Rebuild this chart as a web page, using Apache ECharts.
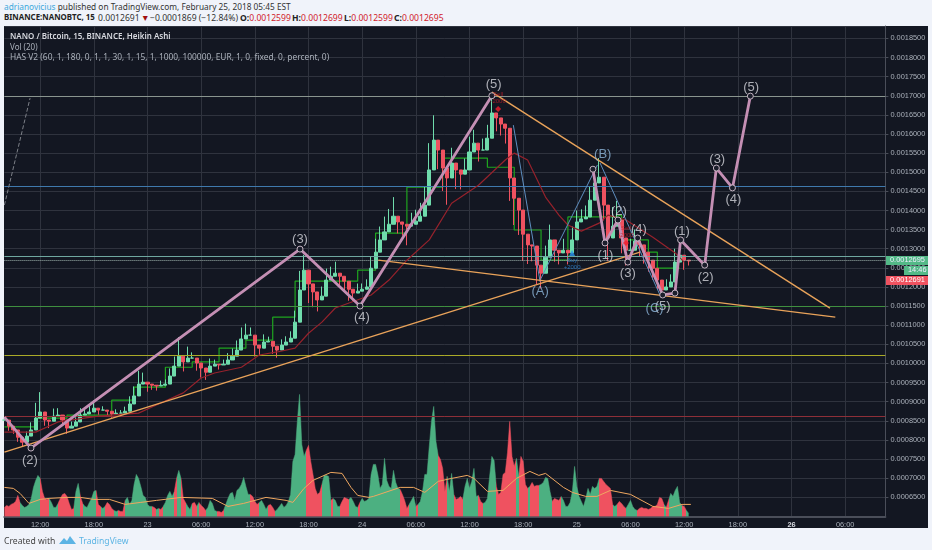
<!DOCTYPE html>
<html><head><meta charset="utf-8">
<script src="https://cdn.jsdelivr.net/npm/echarts@6/dist/echarts.min.js"></script>
<style>
html,body{margin:0;padding:0;width:932px;height:550px;background:#f0f3fa;overflow:hidden;font-family:"Noto Sans",sans-serif}
#panel{position:absolute;left:4px;top:26px;width:924px;height:502px;background:#131722}
#chart{position:absolute;left:0;top:0;width:932px;height:550px;filter:blur(.35px)}
.h{position:absolute;white-space:nowrap;color:#333;font-size:8.3px}
.b{font-weight:700;color:#222}.r{color:#d0202a}.blue{color:#3fa9dc}
#foot{position:absolute;left:4px;top:535px;font-size:8.6px;color:#444;white-space:nowrap}
#tv{position:absolute;left:79px;top:535px;font-size:8.6px;color:#5cb4e4}
svg{position:absolute;left:59px;top:536px}
</style></head><body>
<div class="h" style="top:1px;left:4px"><span class="blue">adrianovicius</span> published on TradingView.com, February 25, 2018 05:45 EST</div>
<div class="h b" style="top:12px;left:4px;font-size:7.9px">BINANCE:NANOBTC, 15</div>
<div class="h" style="top:12px;left:98px;font-size:8.6px">0.0012691</div>
<div class="h" style="top:12px;left:141px;font-size:8.6px;color:#a01010">▼</div>
<div class="h" style="top:12px;left:150px;font-size:8.6px">−0.0001869 (−12.84%)</div>
<div class="h" style="top:12px;left:240px;font-size:8.6px"><span class="b">O:</span><span class="r">0.0012599</span></div>
<div class="h" style="top:12px;left:292px;font-size:8.6px"><span class="b">H:</span><span class="r">0.0012699</span></div>
<div class="h" style="top:12px;left:344px;font-size:8.6px"><span class="b">L:</span><span class="r">0.0012599</span></div>
<div class="h" style="top:12px;left:394px;font-size:8.6px"><span class="b">C:</span><span class="r">0.0012695</span></div>
<div id="panel"></div>
<div id="chart"></div>
<div id="foot">Created with</div>
<svg width="17" height="9" viewBox="0 0 17 9"><path d="M0 8 L5 2 L8 5 L11 0 L17 8 Z" fill="#5cb4e4"/></svg>
<div id="tv">TradingView</div>
<script>
// Prices are in units of 0.0000001 BTC. Candles are 30-minute steps starting 22 Feb 08:00.
const closes=[8520,8360,8260,8070,7940,8100,8260,8570,8730,8520,8490,8620,8650,8520,8310,8360,8470,8650,8680,8730,8830,8780,8780,8750,8680,8700,8700,8750,8940,9150,
9460,9510,9460,9430,9410,9430,9460,9670,9930,10190,10040,10140,10140,10010,9880,9770,9930,9980,9960,9980,10090,10190,10350,10640,10740,10740,10480,10400,10560,10580,
10450,10350,10480,10560,10660,11080,11920,12440,12080,11870,11660,11760,12180,12280,12360,12280,12150,11940,11840,11890,11940,12000,12490,12910,13230,13440,13640,13850,13700,13640,
13590,13640,13720,13850,14140,15060,15840,15580,15110,14850,15240,15060,14950,15060,15530,15760,15580,15580,15890,16550,16420,16260,16150,14850,14320,14010,13380,13100,13070,12570,
12360,12780,13230,12960,12890,12960,12890,13230,13700,13780,13830,14270,14720,14870,14140,13280,13590,13750,13280,12960,12960,13200,13100,12910,12700,12490,12180,11920,12000,12130,
12650,12830,12700,12680];
// Wick length beyond the body: upward on rising bars, downward on falling bars.
const wicks=[80,120,100,120,100,120,200,400,520,150,180,200,180,120,150,120,120,180,150,200,200,120,100,100,100,100,80,120,200,250,
350,250,200,120,120,120,120,200,250,500,250,300,150,200,250,200,200,120,120,120,180,200,250,300,300,200,300,200,200,120,
200,200,150,150,180,300,500,400,500,400,300,250,300,250,300,300,300,300,200,200,150,200,300,350,350,400,400,500,300,300,
500,300,300,350,500,700,650,500,600,700,400,500,400,300,400,350,300,300,350,500,350,300,400,600,700,650,700,500,400,500,
400,300,400,300,300,300,300,350,300,250,300,350,400,500,400,600,500,500,400,400,300,300,300,300,300,300,250,200,200,200,
350,300,250,120];
// Volume per 15-minute step; a minus sign marks a falling bar.
const volumes=[-9,-11,-10,-12,-13,-15,-21,14,11,9,10,12,18,29,36,41,-38,-25,-18,-17,18,14,9,9,-13,-18,-22,-23,-20,-13,-7,8,25,33,-20,13,10,9,14,18,25,-26,-12,10,8,-10,-14,-12,-8,6,5,-6,-5,-5,16,19,12,16,32,42,38,30,21,19,12,10,-10,-9,7,-8,-7,10,14,21,25,20,-25,38,46,-38,-18,14,10,7,-13,-14,10,-14,-11,-9,6,9,16,13,6,-5,-5,-4,6,12,18,23,24,16,26,28,32,39,30,22,-22,-20,-15,-12,14,16,12,7,-11,-12,-9,5,7,10,13,9,11,15,22,55,62,95,122,72,60,-66,-71,-55,-42,-28,-22,-24,32,41,41,40,-16,18,16,10,-10,-15,-19,-18,17,19,15,10,-9,14,18,15,16,18,42,52,52,42,28,32,58,36,30,28,46,34,28,
-27,-22,-16,-8,12,16,20,-10,12,15,25,42,42,70,95,110,75,-61,-57,-48,-25,40,25,43,-22,-17,-18,-20,17,30,38,28,35,48,20,-21,-15,13,14,18,40,60,56,-30,-22,-24,-42,-44,-64,-95,-60,-50,58,-40,-60,-55,-32,28,-30,-34,-30,-31,31,32,34,39,38,25,-15,-18,-17,-16,20,16,10,10,14,25,50,30,20,15,10,18,28,22,30,28,30,-38,-38,-35,-32,-30,-28,12,10,-12,-15,-13,-10,8,12,16,10,7,-6,-8,-9,-8,-8,-7,-8,-10,-10,-12,-19,-18,12,-9,16,23,20,26,30,14,-11,-10,6,3];
// Vol (20) average, as [15-minute step, volume].
const volAverage=[[0,29],[4,28],[7,23],[11,13],[16,17],[20,18],[28,19],[34,19],[40,17],[47,17],[54,12],[61,14],[68,16],[79,19],[93,18],[100,10],[107,13],[117,19],[126,16],[129,14],[134,28],[138,36],[146,44],[151,43],[155,29],[158,21],[163,19],[165,20],[177,29],[183,29],[188,24],[194,35],[200,38],[207,41],[210,38],[216,25],[223,26],[229,38],[235,45],[239,41],[242,43],[250,29],[254,24],[260,20],[265,20],[271,26],[280,22],[290,10],[297,8],[303,12],[307,12]];
// Green stepped HAS line and dark-red average, as [30-minute step, price].
const stepLine=[[0,8340],[7,8570],[14,8650],[24,9040],[29,9380],[36,9900],[42,10040],[48,10400],[54,10610],[60,11210],[65,12150],[79,12440],[83,13410],[90,14610],[98,15370],[108,15130],[114,13490],[120,12700],[126,13830],[136,13880],[138,13230],[144,12910],[146,12490],[151,12490]];
const redAverage=[[0,8205],[7,8205],[12,8470],[21,8620],[30,8700],[33,8860],[40,9230],[44,9620],[47,9750],[53,9900],[57,10220],[61,10300],[65,10400],[68,10790],[71,11080],[74,11450],[82,11790],[86,12180],[90,12700],[95,13230],[100,14190],[106,14660],[112,15320],[114,15500],[117,15320],[121,14350],[124,13880],[126,13620],[129,13460],[133,13670],[135,13880],[139,13750],[145,13300],[150,12890],[152,12650]];
// Drawings, as [hours since 22 Feb 00:00, price].
const waveOne=[[8,8597],[10.97,7787],[41.05,12990],[47.76,11500],[62.5,17000]];
const waveTwo=[[73.8,15080],[75.15,13150],[76.6,13750],[77.7,12650],[78.8,13280],[81.6,11790],[82.97,11840],[83.6,13230],[86.3,12570],[87.6,15110],[89.4,14590],[91.4,16990]];
const trendLines=[[[8,7682],[79.06,12912]],[[49.8,12703],[100.9,11212]],[[62.5,17096],[100.3,11448]]];
const blueLines=[[[64.9,16233],[67.9,12128]],[[67.9,12180],[74.3,15190]],[[74.6,15240],[81.3,11790]]];
const dashedLine=[[8,14141],[10.87,16939]];
const waveLabels=[[10.86,7473,'(2)'],[41.05,13252,'(3)'],[47.98,11212,'(4)'],[62.7,17305,'(5)'],[75.2,12834,'(1)'],[76.7,13984,'(2)'],[77.7,12363,'(3)'],[78.95,13514,'(4)'],[81.6,11500,'(5)'],[83.75,13461,'(1)'],[86.4,12258,'(2)'],[87.7,15344,'(3)'],[89.5,14298,'(4)'],[91.5,17227,'(5)']];
const blueLabels=[[67.9,11892,'(A)'],[74.9,15475,'(B)'],[80.7,11448,'(C)']];
const sellSignals=[[63.2,16652],[77.5,13147]];
const buySignals=[[71.47,12886]];
// Horizontal price levels.
const levels=[[17000,'#8a958f'],[14646,'#3f79ad'],[12807,'#6fa8a0'],[11500,'#3f8f3f'],[10227,'#aaaa28'],[8606,'#8e2f38']];
const lastPrice=12695;
const dayLabels={24:'23',48:'24',72:'25',96:'26'};

const UP='#6fdcac',DOWN='#ef5260',GRIDC='#2f333e',TXT='#aab0ba',UPV='#4cb081';
const hourOf=j=>8+j/2;
const candleCats=[];for(let j=0;j<198;j++){const h=hourOf(j);candleCats.push(dayLabels[h]?dayLabels[h]:(h%24===0?'':String(h%24).padStart(2,'0')+':00'));}
const volCats=[];for(let i=0;i<395;i++)volCats.push(i);
const onSix=(i)=>hourOf(i)%6===0;
const candles=closes.map((c,j)=>{const o=j?closes[j-1]:c;const w=wicks[j];return c>=o?[o,c,o,c+w]:[o,c,c-w,o];});
const volArea=volumes.map((v,i)=>[i,Math.abs(v)]);
// One colour band per run of same-direction bars.
const volPieces=[];
volumes.forEach((v,i)=>{const col=v>0?UPV:DOWN,last=volPieces[volPieces.length-1];
  if(last&&last.color===col)last.lt=i+0.5;else volPieces.push({gte:i-0.5,lt:i+0.5,color:col});});
const G={left:4.4,width:881,top:26,height:490.4};
const hLine=(data,color,width,extra)=>Object.assign({type:'line',xAxisIndex:2,yAxisIndex:2,data,symbol:'none',silent:true,z:6,lineStyle:{color,width},animation:false},extra||{});
const labelSeries=(data,color)=>({type:'scatter',xAxisIndex:2,yAxisIndex:2,z:9,symbolSize:0,silent:true,animation:false,data:data.map(d=>({value:[d[0],d[1]],name:d[2]})),
  label:{show:true,position:'inside',formatter:p=>p.name,color,fontSize:13,fontFamily:'Liberation Sans'}});
const waveStyle={symbol:'circle',symbolSize:6,showSymbol:true,itemStyle:{color:'#1b1e2b',borderColor:'#c4b4c2',borderWidth:1},z:7};
const option={animation:false,
 visualMap:[{show:false,type:'piecewise',seriesIndex:0,dimension:0,pieces:volPieces,outOfRange:{color:UPV}}],
 grid:[G,G,G],
 xAxis:[
  {type:'category',gridIndex:0,data:candleCats,boundaryGap:false,position:'bottom',
   axisLine:{lineStyle:{color:'#4a4e59',width:2}},axisTick:{show:false},
   axisLabel:{interval:(i)=>onSix(i),color:TXT,fontSize:7.4,margin:5,fontFamily:'Liberation Sans',
     formatter:v=>v==='26'?'{b|26}':v,rich:{b:{fontWeight:'bold',color:'#d8dbe2',fontSize:7.4}}},
   splitLine:{show:true,interval:(i)=>onSix(i),lineStyle:{color:GRIDC,width:1}}},
  {type:'category',gridIndex:1,data:volCats,boundaryGap:false,show:false},
  {type:'value',gridIndex:2,min:8,max:106.5,show:false}],
 yAxis:[
  {type:'value',gridIndex:0,position:'right',min:6000,max:18824,interval:500,
   axisLine:{show:true,lineStyle:{color:'#4a4e59'}},axisTick:{show:true,length:3,lineStyle:{color:'#4a4e59'}},
   axisLabel:{color:TXT,fontSize:7.4,margin:5,fontFamily:'Liberation Sans',showMinLabel:false,showMaxLabel:false,formatter:v=>(v/1e7).toFixed(7)},
   splitLine:{show:true,lineStyle:{color:GRIDC,width:1}}},
  {type:'value',gridIndex:1,min:0,max:490.4,show:false},
  {type:'value',gridIndex:2,min:6000,max:18824,show:false}],
 series:[
  {type:'line',xAxisIndex:1,yAxisIndex:1,data:volArea,symbol:'none',z:2,silent:true,lineStyle:{width:.5},areaStyle:{opacity:1}},
  {type:'line',xAxisIndex:1,yAxisIndex:1,data:volAverage,symbol:'none',z:3,silent:true,lineStyle:{color:'#f0a860',width:1}},
  {type:'line',xAxisIndex:2,yAxisIndex:2,data:[],z:2,markLine:{silent:true,symbol:'none',animation:false,label:{show:false},
    data:levels.map(l=>({yAxis:l[0],lineStyle:{color:l[1],width:1,type:'solid'}})).concat([{yAxis:lastPrice,lineStyle:{color:'#9fb4ad',width:1,type:'dotted'}}])}},
  {type:'line',xAxisIndex:0,yAxisIndex:0,data:stepLine,step:'end',symbol:'none',z:3,silent:true,lineStyle:{color:'#1fa51f',width:1.2}},
  {type:'candlestick',xAxisIndex:0,yAxisIndex:0,data:candles,barWidth:3.6,z:4,silent:true,
   itemStyle:{color:UP,color0:DOWN,borderColor:UP,borderColor0:DOWN,borderWidth:1}},
  {type:'line',xAxisIndex:0,yAxisIndex:0,data:redAverage,symbol:'none',z:5,silent:true,lineStyle:{color:'#96222c',width:1.2}},
  hLine(dashedLine,'#7d8088',1,{lineStyle:{color:'#7d8088',width:1,type:'dashed'}}),
  ...blueLines.map(l=>hLine(l,'#5f8fc0',1)),
  ...trendLines.map(l=>hLine(l,'#e9a35a',1.4)),
  hLine(waveOne.map((p,i)=>i?p:{value:p,symbol:'none'}),'#c48fb4',2.8,waveStyle),
  hLine(waveTwo,'#c48fb4',2.8,waveStyle),
  labelSeries(waveLabels,'#d4d6dc'),
  labelSeries(blueLabels,'#8fb8dc'),
  {type:'scatter',xAxisIndex:2,yAxisIndex:2,z:9,symbol:'diamond',symbolSize:6,silent:true,itemStyle:{color:'#f01c2c'},data:sellSignals,
   label:{show:true,position:'top',distance:1,formatter:'Sell\n-2000',color:'#c01c28',fontSize:6,lineHeight:7}},
  {type:'scatter',xAxisIndex:2,yAxisIndex:2,z:9,symbol:'triangle',symbolSize:6,silent:true,itemStyle:{color:'#2a96f0'},data:buySignals,
   label:{show:true,position:'bottom',distance:1,formatter:'Buy\n+2000',color:'#2a86d8',fontSize:6,lineHeight:7}}
 ],
 graphic:[
  {type:'text',left:10,top:33,z:20,style:{text:'NANO / Bitcoin, 15, BINANCE, Heikin Ashi',fill:'#d8dae0',font:'600 8px "Noto Sans"'}},
  {type:'text',left:10,top:44,z:20,style:{text:'Vol (20)',fill:'#aab0ba',font:'8px "Noto Sans"'}},
  {type:'text',left:10,top:54,z:20,style:{text:'HAS V2 (60, 1, 180, 0, 1, 1, 30, 1, 15, 1, 1000, 100000, EUR, 1, 0, fixed, 0, percent, 0)',fill:'#aab0ba',font:'8.4px "Noto Sans"'}},
  {type:'rect',left:886,top:256,z:20,shape:{width:42,height:9},style:{fill:'#53b987'}},
  {type:'text',left:890,top:256.5,z:21,style:{text:'0.0012695',fill:'#eef',font:'7.4px "Liberation Sans"'}},
  {type:'rect',left:904,top:266,z:20,shape:{width:24,height:9},style:{fill:'#53b987'}},
  {type:'text',left:908,top:266.5,z:21,style:{text:'14:46',fill:'#eef',font:'7.4px "Liberation Sans"'}},
  {type:'rect',left:886,top:276,z:20,shape:{width:42,height:9},style:{fill:DOWN}},
  {type:'text',left:890,top:276.5,z:21,style:{text:'0.0012691',fill:'#fff',font:'7.4px "Liberation Sans"'}}
 ]
};
echarts.init(document.getElementById('chart'),null,{renderer:'canvas'}).setOption(option);
</script></body></html>
